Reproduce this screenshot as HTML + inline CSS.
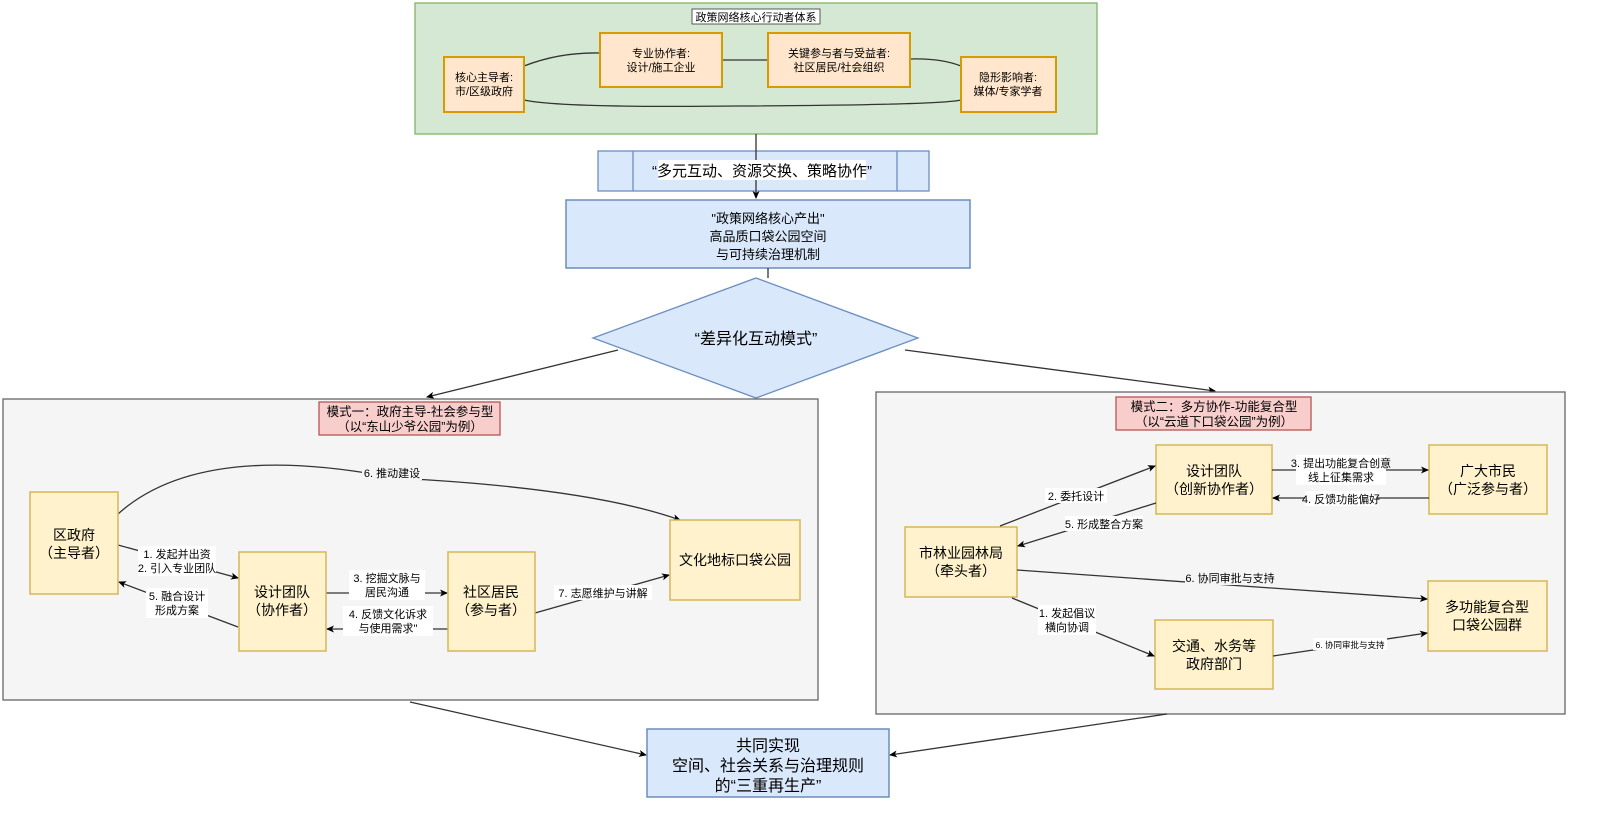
<!DOCTYPE html>
<html><head><meta charset="utf-8"><style>
html,body{margin:0;padding:0;background:#fff;}
svg{display:block;font-family:"Liberation Sans","Noto Sans CJK SC",sans-serif;}
</style></head><body>
<svg width="1600" height="818" viewBox="0 0 1600 818" xmlns="http://www.w3.org/2000/svg">
<defs><marker id="a" markerWidth="8" markerHeight="8" refX="7" refY="4" orient="auto" markerUnits="userSpaceOnUse"><path d="M0,0.5 L8,4 L0,7.5 L2,4z" fill="#000"/></marker></defs>
<g stroke-width="1.3">
<!-- top green -->
<rect x="415" y="3" width="682" height="131" fill="#d5e8d4" stroke="#82b366"/>
<rect x="692" y="9" width="128" height="15" fill="#fff" stroke="#333" stroke-width="0.8"/>
<text x="756" y="21" font-size="11" text-anchor="middle">政策网络核心行动者体系</text>
<path d="M524,66 Q560,52 600,53" fill="none" stroke="#333"/>
<path d="M722,60 L768,60" fill="none" stroke="#333"/>
<path d="M910,59 Q940,58 961,66" fill="none" stroke="#333"/>
<path d="M524,100 Q560,108 740,106 Q940,105 961,100" fill="none" stroke="#333"/>
<rect x="444" y="57" width="80" height="55" fill="#ffe6cc" stroke="#d79b00" stroke-width="2"/>
<rect x="600" y="33" width="122" height="54" fill="#ffe6cc" stroke="#d79b00" stroke-width="2"/>
<rect x="768" y="33" width="142" height="54" fill="#ffe6cc" stroke="#d79b00" stroke-width="2"/>
<rect x="961" y="57" width="95" height="55" fill="#ffe6cc" stroke="#d79b00" stroke-width="2"/>
<g font-size="11" text-anchor="middle">
<text x="484" y="81">核心主导者:</text><text x="484" y="95">市/区级政府</text>
<text x="661" y="57">专业协作者:</text><text x="661" y="71">设计/施工企业</text>
<text x="839" y="57">关键参与者与受益者:</text><text x="839" y="71">社区居民/社会组织</text>
<text x="1008" y="81">隐形影响者:</text><text x="1008" y="95">媒体/专家学者</text>
</g>
<!-- band -->
<rect x="598" y="151" width="331" height="40" fill="#dae8fc" stroke="#6c8ebf"/>
<line x1="633" y1="151" x2="633" y2="191" stroke="#6c8ebf"/>
<line x1="897" y1="151" x2="897" y2="191" stroke="#6c8ebf"/>
<line x1="756" y1="134" x2="756" y2="198" stroke="#333" marker-end="url(#a)"/>
<rect x="658" y="160" width="208" height="20" fill="#fff"/>
<text x="762" y="176" font-size="15" text-anchor="middle">“多元互动、资源交换、策略协作”</text>
<rect x="566" y="200" width="404" height="68" fill="#dae8fc" stroke="#6c8ebf" stroke-width="1.5"/>
<g font-size="13" text-anchor="middle"><text x="768" y="223">"政策网络核心产出"</text><text x="768" y="241">高品质口袋公园空间</text><text x="768" y="259">与可持续治理机制</text></g>
<line x1="768" y1="268" x2="768" y2="278" stroke="#333"/>
<polygon points="756,278 918,338 756,398 593,338" fill="#dae8fc" stroke="#6c8ebf"/>
<text x="756" y="344" font-size="16" text-anchor="middle">“差异化互动模式”</text>
<line x1="618" y1="350" x2="427" y2="397" stroke="#333" marker-end="url(#a)"/>
<line x1="905" y1="350" x2="1215" y2="391" stroke="#333" marker-end="url(#a)"/>
<!-- containers -->
<rect x="3" y="399" width="815" height="301" fill="#f5f5f5" stroke="#666"/>
<rect x="876" y="392" width="689" height="322" fill="#f5f5f5" stroke="#666"/>
<rect x="319" y="402" width="181" height="33" fill="#f8cecc" stroke="#b85450"/>
<g font-size="12.5" text-anchor="middle"><text x="410" y="416">模式一：政府主导-社会参与型</text><text x="410" y="431">（以“东山少爷公园”为例）</text></g>
<rect x="1116" y="397" width="195" height="33" fill="#f8cecc" stroke="#b85450"/>
<g font-size="12.5" text-anchor="middle"><text x="1214" y="411">模式二：多方协作-功能复合型</text><text x="1214" y="426">（以“云道下口袋公园”为例）</text></g>
<!-- left edges -->
<g stroke="#333" fill="none">
<path d="M118,514 Q200,440 395,478 Q590,488 680,520" marker-end="url(#a)"/>
<line x1="118" y1="545" x2="238" y2="578" marker-end="url(#a)"/>
<line x1="238" y1="627" x2="119" y2="582" marker-end="url(#a)"/>
<line x1="326" y1="593" x2="447" y2="593" marker-end="url(#a)"/>
<line x1="448" y1="629" x2="327" y2="629" marker-end="url(#a)"/>
<line x1="535" y1="613" x2="669" y2="575" marker-end="url(#a)"/>
</g>
<g font-size="11" text-anchor="middle">
<rect x="362" y="466" width="60" height="14" fill="#f5f5f5"/><text x="392" y="477">6. 推动建设</text>
<rect x="138" y="546" width="78" height="30" fill="#fff"/><text x="177" y="558">1. 发起并出资</text><text x="177" y="572">2. 引入专业团队</text>
<rect x="146" y="588" width="62" height="30" fill="#fff"/><text x="177" y="600">5. 融合设计</text><text x="177" y="614">形成方案</text>
<rect x="349" y="570" width="76" height="30" fill="#fff"/><text x="387" y="582">3. 挖掘文脉与</text><text x="387" y="596">居民沟通</text>
<rect x="343" y="606" width="90" height="30" fill="#fff"/><text x="388" y="618">4. 反馈文化诉求</text><text x="388" y="632">与使用需求"</text>
<rect x="554" y="585" width="98" height="15" fill="#fff"/><text x="603" y="597">7. 志愿维护与讲解</text>
</g>
<g fill="#fff2cc" stroke="#d6b656" stroke-width="1.5">
<rect x="30" y="492" width="88" height="102"/><rect x="239" y="552" width="87" height="99"/>
<rect x="448" y="552" width="87" height="99"/><rect x="670" y="520" width="130" height="80"/>
<rect x="1156" y="445" width="116" height="69"/><rect x="1429" y="445" width="118" height="69"/>
<rect x="905" y="527" width="112" height="70"/><rect x="1428" y="581" width="119" height="70"/>
<rect x="1155" y="620" width="118" height="69"/>
</g>
<g font-size="14" text-anchor="middle">
<text x="74" y="540">区政府</text><text x="74" y="558">（主导者）</text>
<text x="282" y="597">设计团队</text><text x="282" y="615">（协作者）</text>
<text x="491" y="597">社区居民</text><text x="491" y="615">（参与者）</text>
<text x="735" y="565">文化地标口袋公园</text>
<text x="1214" y="476">设计团队</text><text x="1214" y="494">（创新协作者）</text>
<text x="1488" y="476">广大市民</text><text x="1488" y="494">（广泛参与者）</text>
<text x="961" y="558">市林业园林局</text><text x="961" y="576">（牵头者）</text>
<text x="1487" y="612">多功能复合型</text><text x="1487" y="630">口袋公园群</text>
<text x="1214" y="651">交通、水务等</text><text x="1214" y="669">政府部门</text>
</g>
<!-- right edges -->
<g stroke="#333" fill="none">
<line x1="1000" y1="526" x2="1155" y2="466" marker-end="url(#a)"/>
<line x1="1156" y1="503" x2="1018" y2="546" marker-end="url(#a)"/>
<line x1="1272" y1="470" x2="1428" y2="470" marker-end="url(#a)"/>
<line x1="1429" y1="498" x2="1273" y2="498" marker-end="url(#a)"/>
<line x1="1017" y1="570" x2="1427" y2="599" marker-end="url(#a)"/>
<line x1="1012" y1="598" x2="1154" y2="656" marker-end="url(#a)"/>
<line x1="1273" y1="656" x2="1427" y2="633" marker-end="url(#a)"/>
<line x1="410" y1="702" x2="646" y2="755" marker-end="url(#a)"/>
<line x1="1167" y1="714" x2="890" y2="755" marker-end="url(#a)"/>
</g>
<g font-size="11" text-anchor="middle">
<rect x="1045" y="488" width="62" height="15" fill="#fff"/><text x="1076" y="500">2. 委托设计</text>
<rect x="1065" y="516" width="78" height="15" fill="#fff"/><text x="1104" y="528">5. 形成整合方案</text>
<rect x="1296" y="455" width="90" height="30" fill="#fff"/><text x="1341" y="467">3. 提出功能复合创意</text><text x="1341" y="481">线上征集需求</text>
<rect x="1305" y="491" width="72" height="15" fill="#fff"/><text x="1341" y="503">4. 反馈功能偏好</text>
<rect x="1185" y="570" width="90" height="15" fill="#f5f5f5"/><text x="1230" y="582">6. 协同审批与支持</text>
<rect x="1038" y="605" width="58" height="30" fill="#fff"/><text x="1067" y="617">1. 发起倡议</text><text x="1067" y="631">横向协调</text>
<rect x="1313" y="638" width="74" height="12" fill="#fff"/><text x="1350" y="648" font-size="8.5">6. 协同审批与支持</text>
</g>
<rect x="647" y="729" width="242" height="68" fill="#dae8fc" stroke="#6c8ebf" stroke-width="1.5"/>
<g font-size="16" text-anchor="middle"><text x="768" y="751">共同实现</text><text x="768" y="771">空间、社会关系与治理规则</text><text x="768" y="791">的“三重再生产”</text></g>
</g>
</svg>
</body></html>
